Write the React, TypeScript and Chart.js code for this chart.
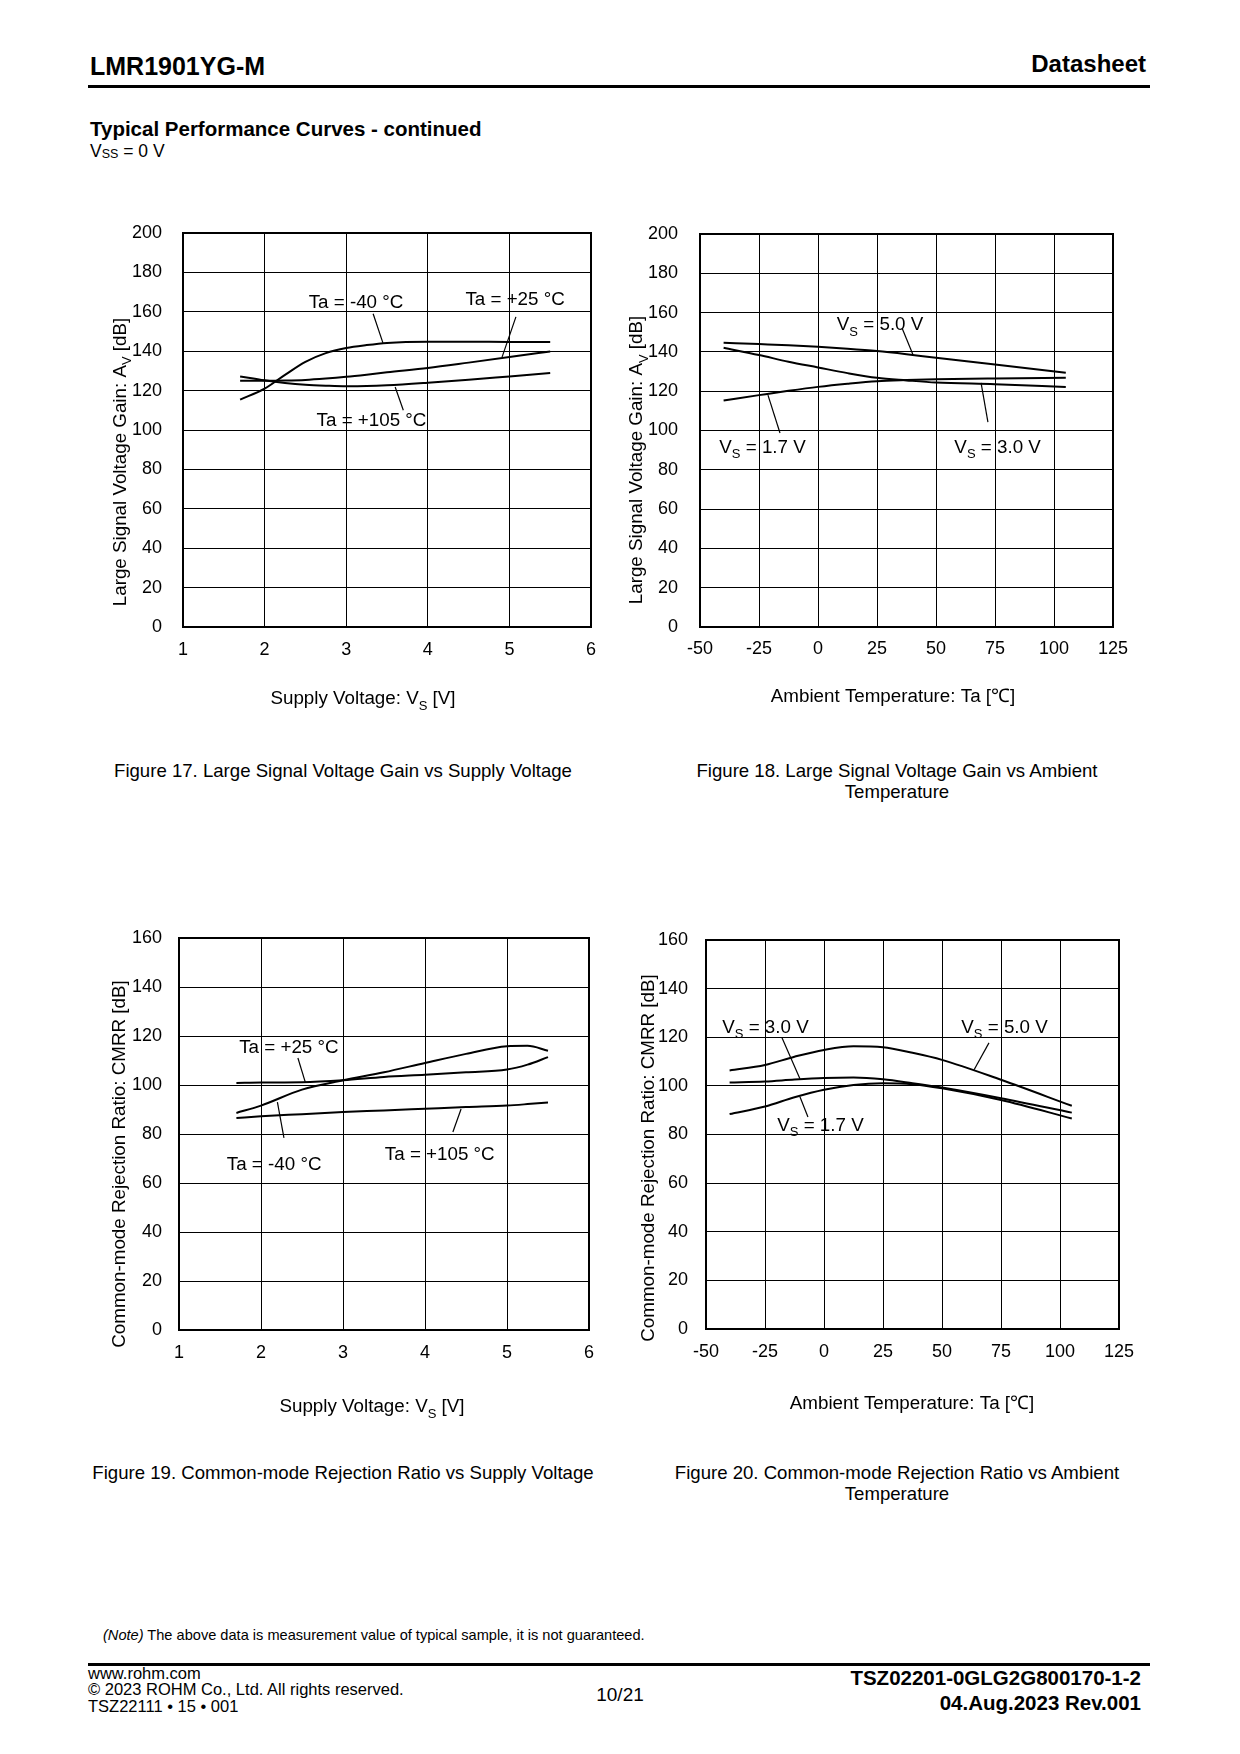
import React, { useEffect, useRef } from "react";
import { Chart, registerables } from "chart.js";

Chart.register(...registerables);

const FONT = "'Liberation Sans', Arial, Helvetica, sans-serif";

// ---------- Figure 17: Large Signal Voltage Gain vs Supply Voltage ----------
const fig17SupplyV = [1.7, 2.0, 2.25, 2.5, 2.75, 3.0, 3.25, 3.5, 4.0, 4.5, 5.0, 5.5];
const fig17GainTaM40 = [115.4, 121.0, 128.0, 134.6, 139.0, 141.6, 143.1, 144.2, 144.8, 144.8, 144.7, 144.7];
const fig17GainTa25 = [125.0, 125.0, 125.1, 125.4, 126.1, 127.0, 128.1, 129.3, 131.5, 134.2, 137.0, 139.9];
const fig17GainTa105 = [127.2, 125.2, 123.9, 123.0, 122.5, 122.2, 122.3, 122.7, 124.0, 125.5, 127.2, 128.9];

// ---------- Figure 18: Large Signal Voltage Gain vs Ambient Temperature ----------
const fig18Temp = [-40, -25, -12.5, 0, 12.5, 25, 37.5, 50, 75, 105];
const fig18GainVs50 = [144.7, 144.0, 143.4, 142.6, 141.6, 140.4, 138.8, 137.0, 133.6, 129.4];
const fig18GainVs30 = [142.1, 138.4, 135.0, 132.1, 129.2, 126.8, 125.5, 124.4, 123.6, 122.2];
const fig18GainVs17 = [115.3, 118.0, 120.2, 122.2, 123.8, 125.1, 125.7, 126.1, 126.5, 126.8];

// ---------- Figure 19: CMRR vs Supply Voltage ----------
const fig19SupplyV = [1.7, 2.0, 2.5, 3.0, 3.5, 4.0, 4.5, 5.0, 5.25, 5.5];
const fig19CmrrTa25 = [100.8, 101.0, 101.1, 101.9, 103.3, 104.2, 105.2, 106.3, 108.3, 111.4];
const fig19CmrrTaM40 = [88.6, 91.6, 98.1, 101.9, 105.2, 109.0, 112.7, 115.8, 116.0, 114.0];
const fig19CmrrTa105 = [86.5, 87.2, 88.1, 89.0, 89.6, 90.3, 91.0, 91.6, 92.2, 92.9];

// ---------- Figure 20: CMRR vs Ambient Temperature ----------
const fig20Temp = [-40, -25, -12.5, 0, 12.5, 25, 37.5, 50, 75, 105];
const fig20CmrrVs50 = [106.3, 108.6, 112.0, 114.8, 116.3, 115.9, 113.6, 110.7, 102.5, 91.8];
const fig20CmrrVs30 = [101.4, 101.8, 102.6, 103.2, 103.4, 102.7, 101.1, 99.3, 94.9, 89.0];
const fig20CmrrVs17 = [88.4, 91.5, 95.3, 98.4, 100.4, 101.1, 100.7, 99.0, 94.2, 86.6];

// Axis ranges / tick steps
const supplyAxis: [number, number, number] = [1, 6, 1];
const tempAxis: [number, number, number] = [-50, 125, 25];
const gainAxis: [number, number, number] = [0, 200, 20];
const cmrrAxis: [number, number, number] = [0, 160, 20];

type Seg = { t: string; sub?: boolean };
type Note = { segs: Seg[]; x: number; y: number; from: [number, number]; to: [number, number] };
type Spec = {
  box: [number, number, number, number];
  plot: [number, number, number, number];
  xr: [number, number, number];
  yr: [number, number, number];
  xs: number[];
  series: number[][];
  yPad: number;
  xPad: number;
  xTitle: Seg[];
  xTitleAt: [number, number];
  yTitle: Seg[];
  yTitleAt: [number, number];
  notes: Note[];
};

const supplyTitle: Seg[] = [{ t: "Supply Voltage: V" }, { t: "S", sub: true }, { t: " [V]" }];
const tempTitle: Seg[] = [{ t: "Ambient Temperature: Ta [\u2103]" }];
const gainTitle: Seg[] = [{ t: "Large Signal Voltage Gain: A" }, { t: "V", sub: true }, { t: " [dB]" }];
const cmrrTitle: Seg[] = [{ t: "Common-mode Rejection Ratio: CMRR [dB]" }];
const ta = (s: string): Seg[] => [{ t: "Ta = " + s + " \u00B0C" }];
const vs = (s: string): Seg[] => [{ t: "V" }, { t: "S", sub: true }, { t: " = " + s + " V" }];

const TICK_SIZE = 18;
const TITLE_SIZE = 18.8;
const NOTE_SIZE = 18.8;

const specs: Spec[] = [
  {
    box: [88, 190, 545, 535],
    plot: [183, 233, 591, 627],
    xr: supplyAxis,
    yr: gainAxis,
    xs: fig17SupplyV,
    series: [fig17GainTaM40, fig17GainTa25, fig17GainTa105],
    yPad: 21,
    xPad: 12,
    xTitle: supplyTitle,
    xTitleAt: [363, 704],
    yTitle: gainTitle,
    yTitleAt: [125.5, 462],
    notes: [
      { segs: ta("-40"), x: 3.12, y: 161.8, from: [3.33, 159], to: [3.45, 144.2] },
      { segs: ta("+25"), x: 5.07, y: 163.5, from: [5.08, 157.4], to: [4.91, 137] },
      { segs: ta("+105"), x: 3.31, y: 102, from: [3.6, 121.8], to: [3.7, 110] },
    ],
  },
  {
    box: [620, 190, 540, 535],
    plot: [700, 234, 1113, 627],
    xr: tempAxis,
    yr: gainAxis,
    xs: fig18Temp,
    series: [fig18GainVs50, fig18GainVs30, fig18GainVs17],
    yPad: 22,
    xPad: 11.5,
    xTitle: tempTitle,
    xTitleAt: [893, 702],
    yTitle: gainTitle,
    yTitleAt: [642, 460],
    notes: [
      { segs: vs("5.0"), x: 26.3, y: 151.1, from: [35.6, 152.2], to: [40.3, 138.4] },
      { segs: vs("1.7"), x: -23.5, y: 88.7, from: [-21.2, 118], to: [-16.1, 98.7] },
      { segs: vs("3.0"), x: 76.1, y: 88.7, from: [69.1, 124.2], to: [72, 104.3] },
    ],
  },
  {
    box: [88, 895, 545, 530],
    plot: [179, 938, 589, 1330],
    xr: supplyAxis,
    yr: cmrrAxis,
    xs: fig19SupplyV,
    series: [fig19CmrrTa25, fig19CmrrTaM40, fig19CmrrTa105],
    yPad: 17,
    xPad: 12.5,
    xTitle: supplyTitle,
    xTitleAt: [372, 1412],
    yTitle: cmrrTitle,
    yTitleAt: [124.6, 1164],
    notes: [
      { segs: ta("+25"), x: 2.34, y: 113.1, from: [2.45, 111], to: [2.54, 101.2] },
      { segs: ta("-40"), x: 2.16, y: 65.3, from: [2.2, 93], to: [2.28, 78.4] },
      { segs: ta("+105"), x: 4.18, y: 69.4, from: [4.44, 90.2], to: [4.34, 80.8] },
    ],
  },
  {
    box: [620, 895, 540, 530],
    plot: [706, 940, 1119, 1329],
    xr: tempAxis,
    yr: cmrrAxis,
    xs: fig20Temp,
    series: [fig20CmrrVs50, fig20CmrrVs30, fig20CmrrVs17],
    yPad: 18,
    xPad: 12,
    xTitle: tempTitle,
    xTitleAt: [912, 1409],
    yTitle: cmrrTitle,
    yTitleAt: [654, 1158],
    notes: [
      { segs: vs("3.0"), x: -24.8, y: 121.9, from: [-17.8, 119.8], to: [-10.2, 102.9] },
      { segs: vs("5.0"), x: 76.5, y: 121.9, from: [69.9, 117.7], to: [63.6, 106.6] },
      { segs: vs("1.7"), x: -1.5, y: 81.6, from: [-10.2, 95.5], to: [-6.8, 87.2] },
    ],
  },
];

function drawRich(ctx: CanvasRenderingContext2D, segs: Seg[], x: number, y: number, size: number) {
  const sub = Math.round(size * 0.7);
  ctx.textAlign = "left";
  ctx.textBaseline = "alphabetic";
  const widths = segs.map((s) => {
    ctx.font = `${s.sub ? sub : size}px ${FONT}`;
    return ctx.measureText(s.t).width;
  });
  const total = widths.reduce((a, b) => a + b, 0);
  let cx = x - total / 2;
  segs.forEach((s, i) => {
    ctx.font = `${s.sub ? sub : size}px ${FONT}`;
    ctx.fillText(s.t, cx, y + (s.sub ? size * 0.3 : 0));
    cx += widths[i];
  });
}

function ChartBox({ spec }: { spec: Spec }) {
  const ref = useRef<HTMLCanvasElement>(null);
  useEffect(() => {
    const canvas = ref.current;
    if (!canvas) return;
    const [L, T, W, H] = spec.box;
    const [pl, pt, pr, pb] = spec.plot;
    const yW = pl - L;
    const topPad = pt - T;
    const rightPad = L + W - pr;
    const xH = T + H - pb;
    const decor = {
      id: "decor",
      afterDraw(chart: any) {
        const ctx: CanvasRenderingContext2D = chart.ctx;
        const a = chart.chartArea;
        ctx.save();
        ctx.strokeStyle = "#000";
        ctx.lineWidth = 2;
        ctx.strokeRect(a.left, a.top, a.right - a.left, a.bottom - a.top);
        ctx.fillStyle = "#000";
        drawRich(ctx, spec.xTitle, spec.xTitleAt[0] - L, spec.xTitleAt[1] - T, TITLE_SIZE);
        ctx.save();
        ctx.translate(spec.yTitleAt[0] - L, spec.yTitleAt[1] - T);
        ctx.rotate(-Math.PI / 2);
        drawRich(ctx, spec.yTitle, 0, 0, TITLE_SIZE);
        ctx.restore();
        const sx = chart.scales.x;
        const sy = chart.scales.y;
        ctx.lineWidth = 1.2;
        spec.notes.forEach((n) => {
          ctx.beginPath();
          ctx.moveTo(sx.getPixelForValue(n.from[0]), sy.getPixelForValue(n.from[1]));
          ctx.lineTo(sx.getPixelForValue(n.to[0]), sy.getPixelForValue(n.to[1]));
          ctx.stroke();
          drawRich(ctx, n.segs, sx.getPixelForValue(n.x), sy.getPixelForValue(n.y), NOTE_SIZE);
        });
        ctx.restore();
      },
    };
    const tickFont = { family: FONT, size: TICK_SIZE };
    const chart = new Chart(canvas, {
      type: "line",
      data: {
        datasets: spec.series.map((ys) => ({
          data: spec.xs.map((x, i) => ({ x, y: ys[i] })),
          borderColor: "#000",
          borderWidth: 2,
          pointRadius: 0,
          fill: false,
          cubicInterpolationMode: "monotone" as const,
        })),
      },
      options: {
        animation: false,
        responsive: false,
        devicePixelRatio: 1,
        layout: { padding: { top: topPad, right: rightPad, left: 0, bottom: 0 } },
        plugins: { legend: { display: false }, tooltip: { enabled: false }, title: { display: false } },
        scales: {
          x: {
            type: "linear",
            min: spec.xr[0],
            max: spec.xr[1],
            ticks: {
              stepSize: spec.xr[2],
              color: "#000",
              font: tickFont,
              padding: spec.xPad,
              maxRotation: 0,
              autoSkip: false,
              callback: (v: any) => String(v),
            },
            grid: { color: "#000", lineWidth: 1, drawTicks: false },
            border: { display: false },
            afterFit: (s: any) => {
              s.height = xH;
            },
          },
          y: {
            type: "linear",
            min: spec.yr[0],
            max: spec.yr[1],
            ticks: {
              stepSize: spec.yr[2],
              color: "#000",
              font: tickFont,
              padding: spec.yPad,
              autoSkip: false,
              callback: (v: any) => String(v),
            },
            grid: { color: "#000", lineWidth: 1, drawTicks: false },
            border: { display: false },
            afterFit: (s: any) => {
              s.width = yW;
            },
          },
        },
      },
      plugins: [decor],
    } as any);
    return () => chart.destroy();
  }, [spec]);
  const [L, T, W, H] = spec.box;
  return (
    <canvas
      ref={ref}
      width={W}
      height={H}
      style={{ position: "absolute", left: L, top: T, width: W, height: H }}
    />
  );
}

function Txt(props: {
  x: number;
  y: number;
  size: number;
  bold?: boolean;
  align?: "left" | "right" | "center";
  children: React.ReactNode;
}) {
  const { x, y, size, bold, align = "left", children } = props;
  const top = y - 0.8465 * size;
  const base: React.CSSProperties = {
    position: "absolute",
    top,
    fontSize: size,
    lineHeight: `${size}px`,
    fontFamily: FONT,
    fontWeight: bold ? "bold" : "normal",
    whiteSpace: "nowrap",
    color: "#000",
  };
  if (align === "left") base.left = x;
  else if (align === "right") base.right = 1240 - x;
  else {
    base.left = x - 400;
    base.width = 800;
    base.textAlign = "center";
  }
  return <div style={base}>{children}</div>;
}

const CAP = 18.6;

export default function App() {
  return (
    <div
      style={{
        position: "absolute",
        left: 0,
        top: 0,
        width: 1240,
        height: 1754,
        background: "#fff",
        overflow: "hidden",
      }}
    >
      <Txt x={90} y={75} size={25} bold>
        LMR1901YG-M
      </Txt>
      <Txt x={1146} y={72} size={24} bold align="right">
        Datasheet
      </Txt>
      <div style={{ position: "absolute", left: 88, top: 85, width: 1062, height: 3, background: "#000" }} />
      <Txt x={90} y={136} size={20.5} bold>
        Typical Performance Curves - continued
      </Txt>
      <Txt x={90} y={158} size={17.5}>
        V<span style={{ fontSize: 12.5, position: "relative", top: 1 }}>SS</span> = 0 V
      </Txt>

      {specs.map((s, i) => (
        <ChartBox key={i} spec={s} />
      ))}

      <Txt x={343} y={778} size={CAP} align="center">
        Figure 17. Large Signal Voltage Gain vs Supply Voltage
      </Txt>
      <Txt x={897} y={778} size={CAP} align="center">
        Figure 18. Large Signal Voltage Gain vs Ambient
      </Txt>
      <Txt x={897} y={798.5} size={CAP} align="center">
        Temperature
      </Txt>
      <Txt x={343} y={1480} size={CAP} align="center">
        Figure 19. Common-mode Rejection Ratio vs Supply Voltage
      </Txt>
      <Txt x={897} y={1480} size={CAP} align="center">
        Figure 20. Common-mode Rejection Ratio vs Ambient
      </Txt>
      <Txt x={897} y={1500.5} size={CAP} align="center">
        Temperature
      </Txt>

      <Txt x={103} y={1640} size={14.6}>
        <i>(Note)</i> The above data is measurement value of typical sample, it is not guaranteed.
      </Txt>
      <div style={{ position: "absolute", left: 88, top: 1663, width: 1062, height: 3, background: "#000" }} />
      <Txt x={88} y={1679} size={16.5}>
        www.rohm.com
      </Txt>
      <Txt x={88} y={1695} size={16.5}>
        © 2023 ROHM Co., Ltd. All rights reserved.
      </Txt>
      <Txt x={88} y={1712} size={16.5}>
        TSZ22111 • 15 • 001
      </Txt>
      <Txt x={620} y={1701} size={19} align="center">
        10/21
      </Txt>
      <Txt x={1141} y={1685} size={20.5} bold align="right">
        TSZ02201-0GLG2G800170-1-2
      </Txt>
      <Txt x={1141} y={1710} size={20.5} bold align="right">
        04.Aug.2023 Rev.001
      </Txt>
    </div>
  );
}
